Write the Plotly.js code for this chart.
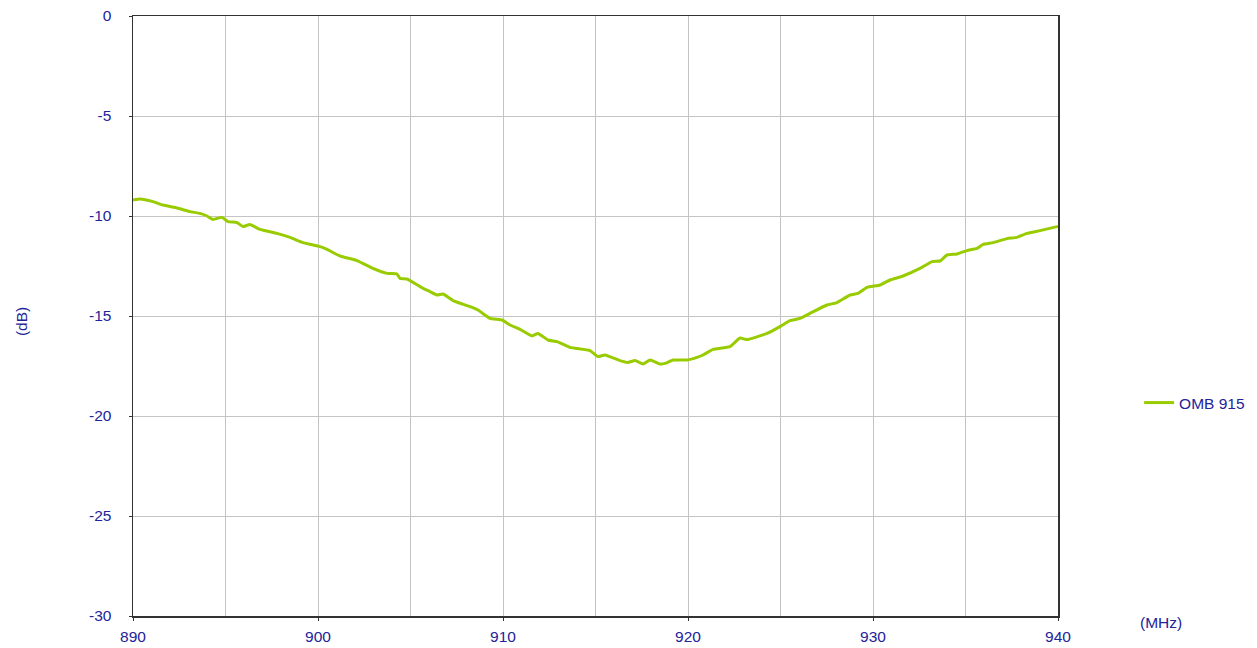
<!DOCTYPE html>
<html>
<head>
<meta charset="utf-8">
<script src="https://cdn.plot.ly/plotly-3.0.1.min.js"></script>
<style>html,body{margin:0;padding:0;background:#fff;}#chart{width:1257px;height:648px;}</style>
</head>
<body>
<div id="chart"></div>
<script>
const freqMHz = [890.0, 890.38, 891.08, 891.62, 892.38, 893.08, 893.62, 894.0, 894.32, 894.81, 895.14, 895.62, 895.95, 896.32, 896.86, 897.78, 898.49, 899.19, 900.11, 900.49, 901.19, 902.11, 902.97, 903.73, 904.27, 904.43, 904.81, 905.68, 906.05, 906.43, 906.76, 907.30, 908.22, 908.65, 909.30, 909.95, 910.38, 910.92, 911.57, 911.89, 912.43, 912.92, 913.62, 914.70, 915.14, 915.51, 916.32, 916.76, 917.14, 917.57, 917.95, 918.49, 918.76, 919.19, 919.95, 920.49, 920.81, 921.35, 922.27, 922.81, 923.19, 924.27, 924.97, 925.51, 926.05, 926.59, 927.51, 928.05, 928.76, 929.19, 929.68, 930.38, 930.92, 931.62, 932.54, 933.19, 933.62, 934.0, 934.54, 935.08, 935.62, 935.95, 936.49, 937.24, 937.78, 938.32, 939.03, 939.95, 940.0];
const omb915dB = [-9.2, -9.15, -9.28, -9.45, -9.6, -9.78, -9.87, -10.0, -10.17, -10.07, -10.28, -10.33, -10.53, -10.42, -10.67, -10.87, -11.07, -11.33, -11.53, -11.67, -12.0, -12.23, -12.62, -12.87, -12.9, -13.12, -13.15, -13.62, -13.78, -13.95, -13.9, -14.23, -14.53, -14.7, -15.12, -15.2, -15.45, -15.67, -16.0, -15.87, -16.2, -16.28, -16.57, -16.73, -17.03, -16.95, -17.23, -17.32, -17.23, -17.4, -17.2, -17.4, -17.37, -17.2, -17.2, -17.07, -16.95, -16.67, -16.53, -16.1, -16.18, -15.87, -15.53, -15.23, -15.12, -14.87, -14.45, -14.33, -13.95, -13.87, -13.57, -13.45, -13.2, -13.0, -12.62, -12.28, -12.25, -11.95, -11.9, -11.73, -11.62, -11.42, -11.33, -11.13, -11.07, -10.87, -10.73, -10.53, -10.52];
const seriesName = 'OMB 915';
const xTicks = [890, 900, 910, 920, 930, 940];
const yTicks = [0, -5, -10, -15, -20, -25, -30];
const xUnit = '(MHz)';
const yUnit = '(dB)';

const textColor = '#23239a';
const fontFam = 'Liberation Sans, Arial, sans-serif';
const fsize = 15.5;
const gridCol = '#c4c4c4';

const trace = {
  x: freqMHz, y: omb915dB, name: seriesName, type: 'scatter', mode: 'lines',
  line: {color: '#99cc00', width: 3, shape: 'spline', smoothing: 0.4},
  showlegend: true
};

const layout = {
  width: 1257, height: 648,
  margin: {l: 133, r: 199, t: 16, b: 32, pad: 0, autoexpand: false},
  paper_bgcolor: '#fff', plot_bgcolor: '#fff',
  font: {family: fontFam, size: fsize, color: textColor},
  showlegend: true,
  legend: {x: 1.0877, y: 0.355, xanchor: 'left', yanchor: 'middle', font: {family: fontFam, size: fsize, color: textColor}, bgcolor: 'rgba(0,0,0,0)'},
  xaxis: {
    range: [890, 940], tickvals: xTicks, ticktext: xTicks.map(String),
    showgrid: true, gridcolor: gridCol, gridwidth: 1,
    minor: {dtick: 5, tick0: 890, showgrid: true, gridcolor: gridCol, gridwidth: 1, ticks: ''},
    showline: true, linecolor: '#333', linewidth: 1.5, mirror: true,
    ticks: 'outside', ticklen: 3, tickcolor: '#333',
    zeroline: false, fixedrange: true, ticklabelstandoff: 3,
    tickfont: {family: fontFam, size: fsize, color: textColor}
  },
  yaxis: {
    range: [-30, 0], tickvals: yTicks, ticktext: yTicks.map(String),
    showgrid: true, gridcolor: gridCol, gridwidth: 1,
    showline: true, linecolor: '#333', linewidth: 1.5, mirror: true,
    ticks: 'outside', ticklen: 3, tickcolor: '#333',
    zeroline: false, fixedrange: true, ticklabelstandoff: 14,
    tickfont: {family: fontFam, size: fsize, color: textColor}
  },
  annotations: [
    {text: xUnit, xref: 'paper', yref: 'paper', x: 1.111, y: -0.01, xanchor: 'center', yanchor: 'middle', showarrow: false, font: {family: fontFam, size: fsize, color: textColor}},
    {text: yUnit, xref: 'paper', yref: 'paper', x: -0.121, y: 0.49, xanchor: 'center', yanchor: 'middle', textangle: -90, showarrow: false, font: {family: fontFam, size: fsize, color: textColor}}
  ]
};

Plotly.newPlot('chart', [trace], layout, {displayModeBar: false, staticPlot: true});
</script>
</body>
</html>
